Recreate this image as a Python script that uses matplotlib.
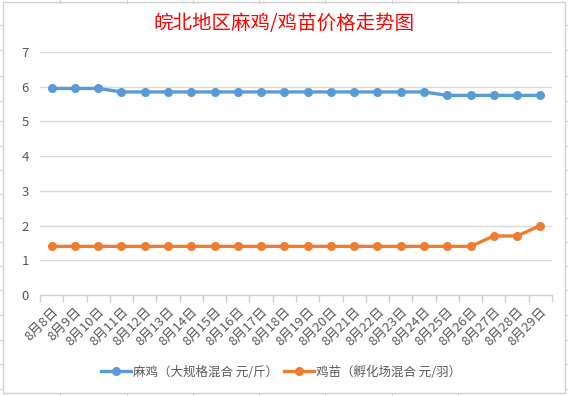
import matplotlib
matplotlib.use("Agg")
import matplotlib.pyplot as plt
from matplotlib.patches import Rectangle
from matplotlib.lines import Line2D

plt.rcParams['font.family'] = ['Noto Sans CJK SC', 'DejaVu Sans']

dates = [f"8月{d}日" for d in range(8, 30)]
majia = [5.95, 5.95, 5.95, 5.85, 5.85, 5.85, 5.85, 5.85, 5.85, 5.85, 5.85,
         5.85, 5.85, 5.85, 5.85, 5.85, 5.85, 5.75, 5.75, 5.75, 5.75, 5.75]
jimiao = [1.4, 1.4, 1.4, 1.4, 1.4, 1.4, 1.4, 1.4, 1.4, 1.4, 1.4,
          1.4, 1.4, 1.4, 1.4, 1.4, 1.4, 1.4, 1.4, 1.7, 1.7, 2.0]
series_names = ["麻鸡（大规格混合 元/斤）", "鸡苗（孵化场混合 元/羽）"]
title = "皖北地区麻鸡/鸡苗价格走势图"

W, H = 568, 396
fig = plt.figure(figsize=(W / 100, H / 100), dpi=100)
fig.patch.set_facecolor("white")

# spreadsheet cell marks around the chart
grid_c = "#D4D4D4"
for x in [60, 127, 193, 259, 325, 392, 458]:
    fig.add_artist(Line2D([x / W, x / W], [1 - 0 / H, 1 - 3 / H], color=grid_c, lw=0.8))
    fig.add_artist(Line2D([x / W, x / W], [1 - 393 / H, 0], color=grid_c, lw=0.8))
for y in [25, 50, 76, 101, 121, 146, 170, 194, 218, 242, 266, 290, 315, 340, 364, 389]:
    fig.add_artist(Line2D([0, 3 / W], [1 - y / H, 1 - y / H], color=grid_c, lw=0.8))
    fig.add_artist(Line2D([565 / W, 1], [1 - y / H, 1 - y / H], color=grid_c, lw=0.8))
fig.add_artist(Rectangle((3 / W, 1 - 393 / H), 562 / W, 391 / H, transform=fig.transFigure,
                         fill=False, edgecolor="#D0D0D0", lw=1.0))

ax = fig.add_axes([40 / W, 1 - 295 / H, 512 / W, 243 / H])
x = list(range(len(dates)))
blue = "#5B9BD5"
orange = "#ED7D31"
ax.plot(x, majia, color=blue, lw=2.4, marker="o", ms=5.5, label=series_names[0], zorder=3)
ax.plot(x, jimiao, color=orange, lw=2.4, marker="o", ms=5.5, label=series_names[1], zorder=3)

ax.set_xlim(-0.5, len(dates) - 0.5)
ax.set_ylim(0, 7)
ax.set_yticks(range(0, 8))
ax.grid(axis="y", color="#D9D9D9", lw=1.0)
ax.set_axisbelow(True)
for s in ["top", "right", "left"]:
    ax.spines[s].set_visible(False)
ax.spines["bottom"].set_color("#D0D0D0")
ax.spines["bottom"].set_linewidth(1.0)
ax.tick_params(axis="y", length=0, labelsize=9.5, labelcolor="#595959", pad=8)

ax.set_xticks([i - 0.5 for i in range(len(dates) + 1)], minor=True)
ax.tick_params(axis="x", which="minor", length=5, color="#D0D0D0", width=1.0)
ax.set_xticks(x)
ax.set_xticklabels(dates, rotation=45, ha="right", va="top", rotation_mode="anchor")
ax.tick_params(axis="x", which="major", length=0, labelsize=9.5, labelcolor="#595959", pad=7)

fig.text(0.5, 1 - 23 / H, title, ha="center", va="center", color="#FF0000",
         fontsize=14, fontweight="medium")

leg = fig.legend(loc="center", bbox_to_anchor=(281 / W, 1 - 372 / H), ncol=2, frameon=False,
                 fontsize=9, handlelength=2.4, columnspacing=0.4, handletextpad=0.2)
for t in leg.get_texts():
    t.set_color("#595959")

fig.savefig("out.png", dpi=100, facecolor="white")
